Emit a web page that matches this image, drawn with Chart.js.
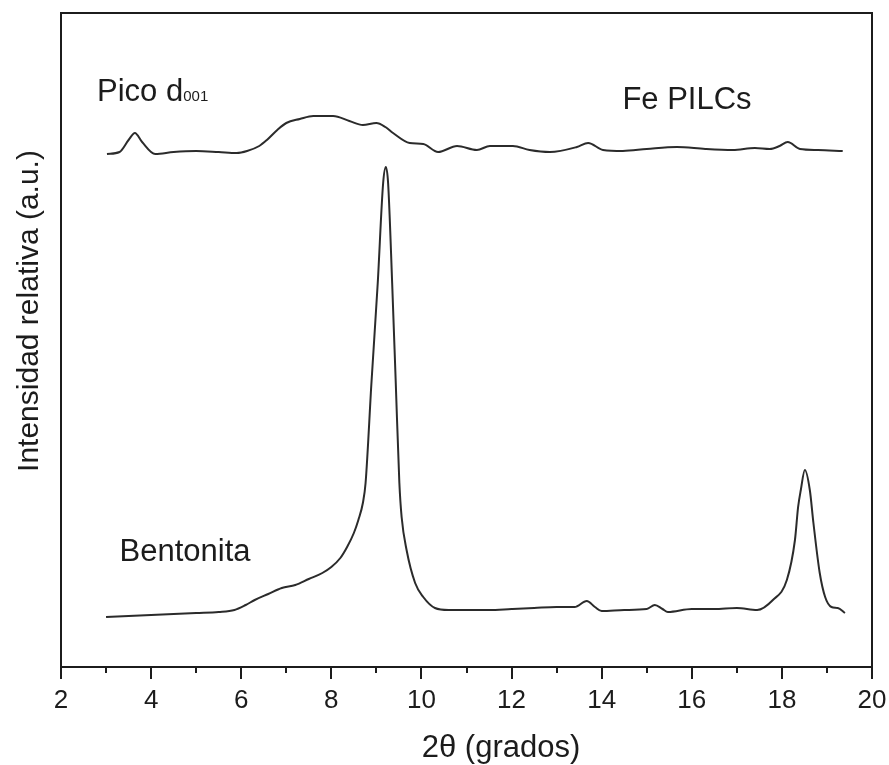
<!DOCTYPE html>
<html lang="es">
<head>
<meta charset="utf-8">
<title>DRX Bentonita / Fe PILCs</title>
<script src="https://cdn.jsdelivr.net/npm/chart.js@4.4.1/dist/chart.umd.min.js"></script>
<style>
  html, body { margin: 0; padding: 0; background: #fff; }
  #wrap { width: 889px; height: 765px; }
</style>
</head>
<body>
<div id="wrap"><canvas id="xrdChart" width="889" height="765"></canvas></div>
<script>
// ========================================
// DIFRACTOGRAMAS DRX
// Bentonita natural vs. arcilla pilareada con Fe
// ========================================

// Eje X: 2θ (grados)
const xTicks = [2, 4, 6, 8, 10, 12, 14, 16, 18, 20];
const xMinorTicks = [3, 5, 7, 9, 11, 13, 15, 17, 19];

// Bentonita - 2θ y intensidad (a.u.)
const bentonitaTheta = [
  3.0, 3.5, 4.0, 4.5, 5.0, 5.5, 5.85, 6.1, 6.3, 6.6, 6.9, 7.2, 7.5, 7.8, 8.0,
  8.2, 8.35, 8.5, 8.6, 8.7, 8.76, 8.89, 9.03, 9.15, 9.21, 9.26, 9.35, 9.43, 9.51,
  9.56, 9.67, 9.86, 10.04, 10.3, 10.6, 11.0, 11.5, 12.0, 12.5, 13.0, 13.4,
  13.67, 13.85, 14.0, 14.5, 15.0, 15.18, 15.35, 15.47, 16.0, 16.5, 17.0, 17.45,
  17.8, 18.11, 18.29, 18.36, 18.42, 18.51, 18.62, 18.7, 18.84, 18.96, 19.1,
  19.24, 19.4
];
const bentonitaIntensity = [
  50, 51, 52, 53, 54, 55, 57, 62, 67, 73, 79, 82, 88, 94, 100,
  109, 120, 134, 147, 164, 184, 284, 384, 484, 500, 484, 384, 284, 184,
  150, 117, 84, 70, 59, 57, 57, 57, 58, 59, 60, 60,
  66, 60, 56, 57, 58, 62, 58, 55, 58, 58, 59, 57,
  67, 87, 127, 160, 177, 197, 177, 144, 94, 70, 60,
  59, 54
];

// Fe PILCs - 2θ y intensidad (a.u.)
const pilcTheta = [
  3.02, 3.3, 3.5, 3.64, 3.8, 4.09, 4.5, 5.0, 5.5, 5.9, 6.13, 6.4, 6.57, 6.8,
  7.0, 7.3, 7.6, 8.04, 8.4, 8.7, 9.0, 9.2, 9.37, 9.74, 10.04, 10.37, 10.79,
  11.23, 11.52, 12.03, 12.4, 12.85, 13.45, 13.7, 14.03, 14.47, 15.0, 15.67,
  16.3, 16.91, 17.4, 17.73, 17.95, 18.13, 18.4, 18.8, 19.35
];
const pilcIntensity = [
  513, 515, 527, 534, 525, 513, 515, 516, 515, 514, 516, 521, 527, 537,
  544, 548, 551, 551, 546, 542, 544, 540, 534, 524, 523, 515, 521,
  517, 521, 521, 517, 515, 520, 524, 517, 516, 518, 520,
  518, 517, 519, 518, 521, 525, 518, 517, 516
];

const FONT = '"Liberation Sans", Arial, sans-serif';
const INK = '#1c1c1c';

function toPoints(xs, ys) {
  return xs.map((x, i) => ({ x: x, y: ys[i] }));
}

// Marco completo, marcas del eje X y rótulos de texto
const framePlugin = {
  id: 'frameAndLabels',
  afterDraw(chart) {
    const { ctx, chartArea: a, scales } = chart;
    const xs = scales.x;
    const ys = scales.y;

    ctx.save();
    ctx.strokeStyle = INK;
    ctx.lineWidth = 2;
    ctx.strokeRect(a.left, a.top, a.right - a.left, a.bottom - a.top);

    // marcas principales y secundarias hacia fuera
    ctx.beginPath();
    xTicks.forEach(v => {
      const px = Math.round(xs.getPixelForValue(v));
      ctx.moveTo(px, a.bottom);
      ctx.lineTo(px, a.bottom + 12);
    });
    xMinorTicks.forEach(v => {
      const px = Math.round(xs.getPixelForValue(v));
      ctx.moveTo(px, a.bottom);
      ctx.lineTo(px, a.bottom + 6);
    });
    ctx.stroke();

    ctx.fillStyle = INK;
    ctx.textBaseline = 'alphabetic';
    ctx.textAlign = 'left';

    // rótulos de las curvas
    ctx.font = '31px ' + FONT;
    const picoX = xs.getPixelForValue(2.8);
    const picoY = ys.getPixelForValue(566);
    ctx.fillText('Pico d', picoX, picoY);
    const w = ctx.measureText('Pico d').width;
    ctx.font = '15px ' + FONT;
    ctx.fillText('001', picoX + w, picoY);

    ctx.font = '31px ' + FONT;
    ctx.fillText('Fe PILCs', xs.getPixelForValue(14.46), ys.getPixelForValue(558));
    ctx.fillText('Bentonita', xs.getPixelForValue(3.3), ys.getPixelForValue(106));

    // título del eje X
    ctx.textAlign = 'center';
    ctx.fillText('2θ (grados)', 501, 757);

    // título del eje Y
    ctx.translate(38, 311);
    ctx.rotate(-Math.PI / 2);
    ctx.font = '30px ' + FONT;
    ctx.fillText('Intensidad relativa (a.u.)', 0, 0);
    ctx.restore();
  }
};

function renderChart() {
  const ctx = document.getElementById('xrdChart');

  new Chart(ctx, {
    type: 'line',
    data: {
      datasets: [
        {
          label: 'Fe PILCs',
          data: toPoints(pilcTheta, pilcIntensity),
          borderColor: '#2b2b2b',
          borderWidth: 2,
          pointRadius: 0,
          cubicInterpolationMode: 'monotone',
          fill: false
        },
        {
          label: 'Bentonita',
          data: toPoints(bentonitaTheta, bentonitaIntensity),
          borderColor: '#2b2b2b',
          borderWidth: 2,
          pointRadius: 0,
          cubicInterpolationMode: 'monotone',
          fill: false
        }
      ]
    },
    options: {
      responsive: false,
      animation: false,
      events: [],
      layout: { padding: { left: 61, right: 17, top: 13, bottom: 0 } },
      plugins: {
        legend: { display: false },
        tooltip: { enabled: false }
      },
      scales: {
        x: {
          type: 'linear',
          min: 2,
          max: 20,
          afterFit(scale) {
            scale.height = 98;
            // las etiquetas extremas no reservan margen extra
            scale.paddingLeft = 0;
            scale.paddingRight = 0;
          },
          border: { display: false },
          grid: { display: false, drawTicks: true, tickLength: 12 },
          ticks: {
            stepSize: 2,
            padding: 6,
            color: INK,
            font: { family: FONT, size: 26 }
          }
        },
        y: {
          display: false,
          min: 0,
          max: 654
        }
      }
    },
    plugins: [framePlugin]
  });
}

renderChart();
</script>
</body>
</html>
